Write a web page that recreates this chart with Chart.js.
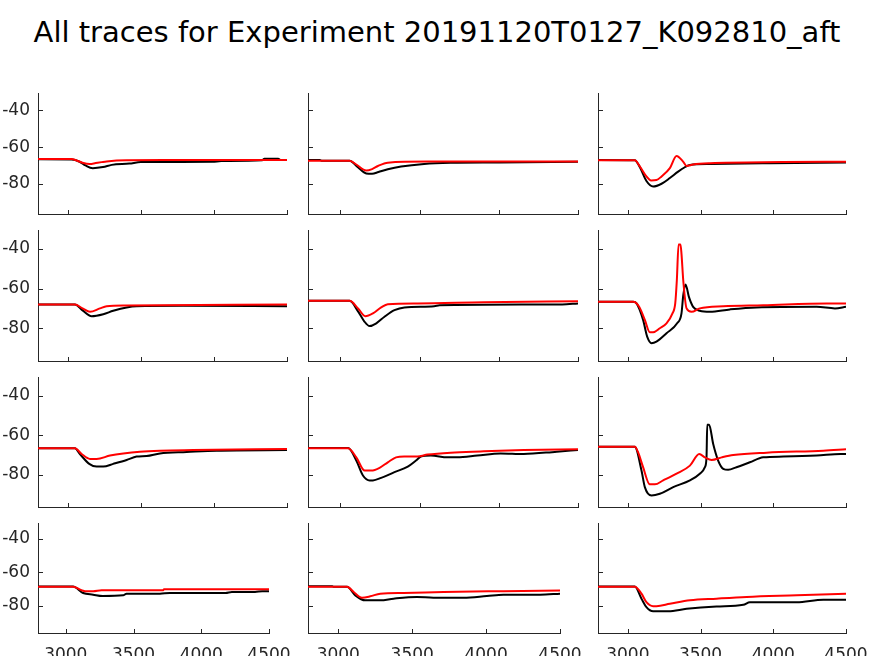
<!DOCTYPE html>
<html>
<head>
<meta charset="utf-8">
<script src="https://cdn.jsdelivr.net/npm/chart.js@4"></script>
<style>
  html, body { margin: 0; padding: 0; background: #fff; overflow: hidden; }
  body { width: 874px; height: 656px; position: relative; font-family: 'DejaVu Sans', sans-serif; }
  #title { position: absolute; left: 0; width: 874px; top: 14px; text-align: center; font-size: 29px; line-height: 36px; color: #000; }
  canvas { position: absolute; }
</style>
</head>
<body>
<div id="title">All traces for Experiment 20191120T0127_K092810_aft</div>
<script>
// tick values shared by all panels
const xTicks = [3000, 3500, 4000, 4500];
const yTicks = [-40, -60, -80];
const yTickLabels = ['-40', '-60', '-80'];
const xTickLabels = ['3000', '3500', '4000', '4500'];
const xMin = 2795, xMax = 4500;
const yMin = -96.5, yMax = -30.5;

// traces, [time, mV]
const r1c1Red = [[2795,-66.5],[3025,-66.5],[3060,-67.3],[3100,-68.5],[3150,-69.2],[3190,-68.7],[3230,-68.2],[3265,-67.8],[3400,-67.2],[3700,-67.1],[4500,-67.0]];
const r1c1Black = [[2795,-66.7],[3025,-66.8],[3080,-68.0],[3120,-70.0],[3170,-71.5],[3240,-70.9],[3300,-69.7],[3420,-69.0],[3500,-68.2],[3990,-68.0],[4050,-67.6],[4330,-67.2],[4345,-66.4],[4440,-66.4],[4455,-67.0],[4500,-67.0]];
const r1c2Red = [[2795,-67.4],[3058,-67.4],[3100,-69.5],[3163,-72.8],[3200,-72.0],[3237,-70.3],[3299,-68.5],[3550,-67.9],[4500,-67.9]];
const r1c2Black = [[2795,-67.0],[2870,-67.0],[2880,-67.4],[3058,-67.4],[3110,-71.0],[3163,-74.4],[3200,-74.6],[3240,-73.6],[3299,-72.1],[3383,-70.6],[3528,-69.2],[3697,-68.6],[4000,-68.4],[4500,-68.0]];
const r1c3Red = [[2795,-67.2],[3048,-67.2],[3083,-70.6],[3128,-76.0],[3160,-78.2],[3197,-78.0],[3232,-76.0],[3289,-71.5],[3335,-64.9],[3380,-67.9],[3404,-70.3],[3449,-69.5],[3564,-68.8],[4066,-68.2],[4500,-68.0]];
const r1c3Black = [[2795,-67.0],[3048,-67.2],[3083,-71.0],[3128,-78.5],[3174,-81.5],[3232,-80.0],[3289,-76.9],[3346,-73.4],[3392,-71.0],[3427,-69.7],[3564,-69.2],[3977,-68.8],[4500,-68.4]];

const r2c1Red = [[2795,-68.0],[3048,-68.0],[3100,-70.0],[3151,-71.7],[3219,-70.0],[3265,-68.9],[3402,-68.5],[4500,-68.0]];
const r2c1Black = [[2795,-68.0],[3048,-68.0],[3100,-71.0],[3162,-73.9],[3242,-72.9],[3310,-71.2],[3402,-69.5],[3470,-68.9],[3788,-68.7],[4500,-68.9]];
const r2c2Red = [[2795,-66.2],[3058,-66.2],[3111,-70.0],[3157,-73.9],[3205,-72.5],[3257,-69.5],[3299,-67.9],[3488,-67.5],[3906,-66.9],[4500,-66.4]];
const r2c2Black = [[2795,-66.2],[3058,-66.2],[3111,-71.5],[3150,-76.5],[3184,-78.9],[3226,-77.5],[3278,-74.2],[3341,-70.9],[3404,-69.5],[3592,-68.9],[3625,-68.4],[4400,-68.0],[4500,-67.5]];
const r2c3Red = [[2795,-66.7],[3037,-66.7],[3078,-69.2],[3117,-75.8],[3151,-82.0],[3174,-82.0],[3220,-80.0],[3266,-77.5],[3307,-72.5],[3326,-67.5],[3337,-55.8],[3349,-37.8],[3362,-37.8],[3369,-42.5],[3381,-55.8],[3404,-70.0],[3438,-71.7],[3495,-70.0],[3656,-68.9],[3931,-68.4],[4367,-67.5],[4500,-67.5]];
const r2c3Black = [[2795,-66.7],[3037,-66.7],[3060,-67.5],[3105,-75.8],[3133,-84.2],[3163,-87.5],[3197,-86.7],[3266,-82.5],[3339,-77.5],[3369,-72.5],[3381,-63.4],[3397,-57.9],[3420,-64.2],[3449,-69.2],[3495,-71.2],[3564,-71.7],[3702,-70.5],[3885,-69.5],[4298,-69.2],[4424,-70.0],[4500,-69.2]];

const r3c1Red = [[2795,-66.7],[3048,-66.7],[3094,-69.6],[3151,-72.1],[3196,-72.1],[3288,-70.4],[3379,-69.3],[3493,-68.4],[3630,-67.9],[3858,-67.6],[4500,-67.0]];
const r3c1Black = [[2795,-66.7],[3048,-66.7],[3082,-69.6],[3146,-74.6],[3196,-76.0],[3242,-76.0],[3310,-74.6],[3402,-72.6],[3470,-70.9],[3539,-70.6],[3630,-69.3],[3813,-68.6],[4018,-67.9],[4500,-67.6]];
const r3c2Red = [[2795,-66.7],[3048,-66.7],[3100,-71.3],[3153,-78.0],[3195,-78.0],[3247,-76.6],[3299,-73.8],[3351,-71.3],[3402,-70.8],[3486,-70.8],[3550,-69.9],[3697,-68.9],[3885,-68.3],[4157,-67.6],[4500,-67.2]];
const r3c2Black = [[2795,-66.6],[3048,-66.6],[3100,-72.9],[3142,-80.5],[3184,-83.0],[3205,-83.0],[3257,-81.7],[3341,-78.8],[3425,-76.0],[3477,-72.9],[3508,-70.9],[3571,-70.4],[3676,-71.3],[3738,-71.3],[3864,-70.4],[4011,-69.3],[4157,-69.6],[4366,-68.4],[4500,-67.6]];
const r3c3Red = [[2795,-65.9],[3048,-65.9],[3071,-68.8],[3105,-76.3],[3151,-85.0],[3186,-85.0],[3243,-83.0],[3335,-79.6],[3427,-75.5],[3491,-69.6],[3530,-71.3],[3576,-72.6],[3645,-71.3],[3725,-70.1],[3954,-68.9],[4344,-67.9],[4500,-67.2]];
const r3c3Black = [[2795,-65.9],[3048,-65.9],[3094,-78.0],[3117,-86.4],[3163,-90.7],[3220,-89.8],[3312,-86.4],[3427,-83.0],[3495,-79.6],[3530,-76.3],[3541,-71.3],[3546,-54.8],[3559,-54.8],[3587,-64.5],[3621,-72.9],[3656,-77.1],[3690,-77.6],[3747,-76.3],[3839,-73.8],[3931,-71.3],[4069,-70.9],[4298,-70.4],[4463,-69.6],[4500,-69.6]];

const r4c1Red = [[2795,-68.8],[3054,-68.8],[3116,-70.8],[3143,-71.4],[3202,-71.4],[3264,-70.8],[3719,-70.8],[3725,-70.2],[4500,-70.2]];
const r4c1Black = [[2795,-68.6],[3054,-68.6],[3128,-72.5],[3202,-73.5],[3272,-74.3],[3424,-73.9],[3448,-72.9],[3695,-72.9],[3768,-72.5],[4180,-72.5],[4226,-71.9],[4397,-71.9],[4450,-71.4],[4500,-71.4]];
const r4c2Red = [[2795,-68.8],[3059,-68.8],[3104,-71.9],[3160,-75.3],[3216,-74.5],[3284,-72.9],[3441,-72.5],[3712,-71.9],[4117,-71.4],[4500,-71.0]];
const r4c2Black = [[2795,-68.5],[2960,-68.5],[2970,-68.8],[3059,-68.8],[3115,-73.9],[3182,-76.9],[3284,-76.9],[3374,-75.9],[3532,-74.9],[3644,-75.3],[3847,-75.3],[4005,-74.3],[4117,-73.5],[4365,-73.5],[4500,-72.9]];
const r4c3Red = [[2795,-68.8],[3048,-68.8],[3094,-72.9],[3128,-78.0],[3174,-80.4],[3197,-80.4],[3289,-79.0],[3427,-76.9],[3610,-75.9],[3817,-74.9],[4161,-73.9],[4500,-72.9]];
const r4c3Black = [[2795,-68.6],[3048,-68.6],[3094,-75.9],[3128,-81.0],[3174,-83.5],[3278,-83.5],[3404,-82.0],[3610,-80.6],[3794,-79.6],[3839,-78.0],[4161,-78.0],[4344,-76.5],[4500,-76.5]];

const traces = [
  [[r1c1Red, r1c1Black], [r1c2Red, r1c2Black], [r1c3Red, r1c3Black]],
  [[r2c1Red, r2c1Black], [r2c2Red, r2c2Black], [r2c3Red, r2c3Black]],
  [[r3c1Red, r3c1Black], [r3c2Red, r3c2Black], [r3c3Red, r3c3Black]],
  [[r4c1Red, r4c1Black], [r4c2Red, r4c2Black], [r4c3Red, r4c3Black]]
];

// panel boxes in page pixels (plot area only)
const rowBox = [[93, 214], [230, 361], [377, 507], [523, 633]];
const colBox = [[38, 287], [308, 578], [598, 846]];
const colBoxLast = [[38, 269], [308, 560], [598, 846]];
const pad = { left: 38, top: 26, right: 45, bottom: 34 };
const axisColor = '#262626';

// MATLAB style ticks pointing into the plot
const inwardTicks = {
  id: 'inwardTicks',
  beforeDatasetsDraw(chart) {
    const { ctx, chartArea: a, scales: { x, y } } = chart;
    ctx.save();
    ctx.strokeStyle = axisColor;
    ctx.lineWidth = 1;
    ctx.beginPath();
    xTicks.forEach(v => {
      const px = Math.round(x.getPixelForValue(v)) + 0.5;
      ctx.moveTo(px, Math.round(a.bottom) + 0.5);
      ctx.lineTo(px, Math.round(a.bottom) - 4);
    });
    yTicks.forEach(v => {
      const py = Math.round(y.getPixelForValue(v)) + 0.5;
      ctx.moveTo(Math.round(a.left) + 0.5, py);
      ctx.lineTo(Math.round(a.left) + 5, py);
    });
    ctx.stroke();
    ctx.restore();
  }
};

function makePanel(r, c) {
  const [top, bottom] = rowBox[r];
  const [left, right] = (r === 3 ? colBoxLast : colBox)[c];
  const canvas = document.createElement('canvas');
  canvas.width = right - left + pad.left + pad.right;
  canvas.height = bottom - top + pad.top + pad.bottom;
  canvas.style.left = (left - pad.left) + 'px';
  canvas.style.top = (top - pad.top) + 'px';
  document.body.appendChild(canvas);

  const [red, black] = traces[r][c];
  const tickFont = { family: 'DejaVu Sans', size: 17 };

  new Chart(canvas.getContext('2d'), {
    type: 'line',
    data: {
      datasets: [
        { data: red.map(p => ({ x: p[0], y: p[1] })), borderColor: '#ff0000' },
        { data: black.map(p => ({ x: p[0], y: p[1] })), borderColor: '#000000' }
      ]
    },
    options: {
      responsive: false,
      animation: false,
      events: [],
      // scales take the left/bottom margins, so labels are not clipped
      layout: { padding: { left: 0, top: pad.top, right: pad.right, bottom: 0 } },
      elements: {
        point: { radius: 0 },
        line: { borderWidth: 2, cubicInterpolationMode: 'monotone', fill: false }
      },
      plugins: { legend: { display: false }, tooltip: { enabled: false }, title: { display: false } },
      scales: {
        x: {
          type: 'linear', min: xMin, max: xMax,
          afterBuildTicks: s => { s.ticks = xTicks.map(v => ({ value: v })); },
          afterFit: s => { s.height = pad.bottom; },
          grid: { display: false, drawTicks: false },
          border: { display: true, color: axisColor, width: 1 },
          ticks: {
            display: r === 3, autoSkip: false, maxRotation: 0, padding: 12,
            color: axisColor, font: tickFont,
            callback: v => xTickLabels[xTicks.indexOf(v)]
          }
        },
        y: {
          type: 'linear', min: yMin, max: yMax,
          afterBuildTicks: s => { s.ticks = yTicks.map(v => ({ value: v })); },
          afterFit: s => { s.width = pad.left; },
          grid: { display: false, drawTicks: false },
          border: { display: true, color: axisColor, width: 1 },
          ticks: {
            display: c === 0, autoSkip: false, padding: 8,
            color: axisColor, font: tickFont,
            callback: v => yTickLabels[yTicks.indexOf(v)]
          }
        }
      }
    },
    plugins: [inwardTicks]
  });
}

for (let r = 0; r < 4; r++) {
  for (let c = 0; c < 3; c++) makePanel(r, c);
}
</script>
</body>
</html>
